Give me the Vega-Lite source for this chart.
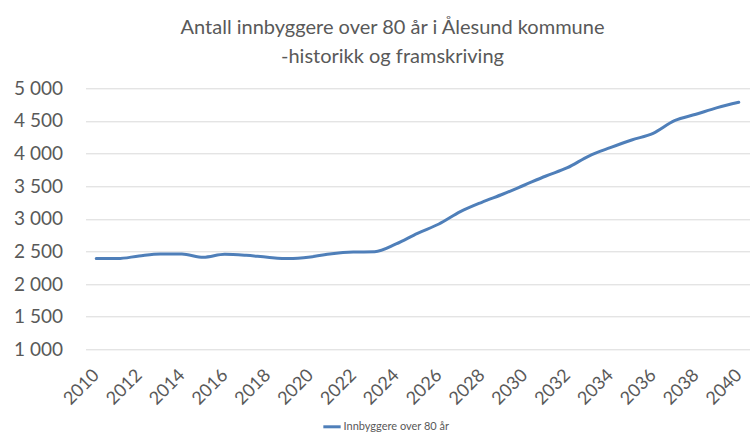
{
  "$schema": "https://vega.github.io/schema/vega-lite/v6.json",
  "autosize": "none",
  "width": 664,
  "height": 261,
  "padding": {"left": 85.5, "top": 88.3, "right": 3.5, "bottom": 89.7},
  "background": "white",
  "title": {
    "text": ["Antall innbyggere over 80 år i Ålesund kommune", "-historikk og framskriving"],
    "font": "Lato",
    "fontSize": 20,
    "fontWeight": "normal",
    "color": "#595959",
    "anchor": "middle",
    "dx": -25,
    "offset": 12,
    "lineHeight": 29
  },
  "data": {
    "values": [
      {"year": 2010, "value": 2390, "series": "Innbyggere over 80 år"},
      {"year": 2011, "value": 2390, "series": "Innbyggere over 80 år"},
      {"year": 2012, "value": 2430, "series": "Innbyggere over 80 år"},
      {"year": 2013, "value": 2460, "series": "Innbyggere over 80 år"},
      {"year": 2014, "value": 2460, "series": "Innbyggere over 80 år"},
      {"year": 2015, "value": 2410, "series": "Innbyggere over 80 år"},
      {"year": 2016, "value": 2456, "series": "Innbyggere over 80 år"},
      {"year": 2017, "value": 2440, "series": "Innbyggere over 80 år"},
      {"year": 2018, "value": 2410, "series": "Innbyggere over 80 år"},
      {"year": 2019, "value": 2390, "series": "Innbyggere over 80 år"},
      {"year": 2020, "value": 2415, "series": "Innbyggere over 80 år"},
      {"year": 2021, "value": 2465, "series": "Innbyggere over 80 år"},
      {"year": 2022, "value": 2490, "series": "Innbyggere over 80 år"},
      {"year": 2023, "value": 2495, "series": "Innbyggere over 80 år"},
      {"year": 2024, "value": 2614, "series": "Innbyggere over 80 år"},
      {"year": 2025, "value": 2778, "series": "Innbyggere over 80 år"},
      {"year": 2026, "value": 2920, "series": "Innbyggere over 80 år"},
      {"year": 2027, "value": 3109, "series": "Innbyggere over 80 år"},
      {"year": 2028, "value": 3253, "series": "Innbyggere over 80 år"},
      {"year": 2029, "value": 3380, "series": "Innbyggere over 80 år"},
      {"year": 2030, "value": 3518, "series": "Innbyggere over 80 år"},
      {"year": 2031, "value": 3656, "series": "Innbyggere over 80 år"},
      {"year": 2032, "value": 3783, "series": "Innbyggere over 80 år"},
      {"year": 2033, "value": 3962, "series": "Innbyggere over 80 år"},
      {"year": 2034, "value": 4090, "series": "Innbyggere over 80 år"},
      {"year": 2035, "value": 4208, "series": "Innbyggere over 80 år"},
      {"year": 2036, "value": 4310, "series": "Innbyggere over 80 år"},
      {"year": 2037, "value": 4504, "series": "Innbyggere over 80 år"},
      {"year": 2038, "value": 4602, "series": "Innbyggere over 80 år"},
      {"year": 2039, "value": 4703, "series": "Innbyggere over 80 år"},
      {"year": 2040, "value": 4785, "series": "Innbyggere over 80 år"}
    ]
  },
  "mark": {"type": "line", "strokeWidth": 3, "strokeCap": "round", "interpolate": "monotone"},
  "encoding": {
    "x": {
      "field": "year",
      "type": "quantitative",
      "scale": {"domain": [2009.5, 2040.5], "nice": false, "zero": false},
      "axis": {
        "title": null,
        "values": [2010, 2012, 2014, 2016, 2018, 2020, 2022, 2024, 2026, 2028, 2030, 2032, 2034, 2036, 2038, 2040],
        "format": "d",
        "grid": false,
        "domain": false,
        "ticks": false,
        "labelAngle": -45,
        "labelAlign": "right",
        "labelBaseline": "middle",
        "labelPadding": 23,
        "labelFont": "Lato",
        "labelFontSize": 18,
        "labelColor": "#595959",
        "labelOverlap": false,
        "labelFlush": false
      }
    },
    "y": {
      "field": "value",
      "type": "quantitative",
      "scale": {"domain": [1000, 5000], "nice": false, "zero": false},
      "axis": {
        "title": null,
        "values": [1000, 1500, 2000, 2500, 3000, 3500, 4000, 4500, 5000],
        "labelExpr": "replace(format(datum.value, ','), ',', ' ')",
        "domain": false,
        "ticks": false,
        "gridColor": "#d9d9d9",
        "gridWidth": 1,
        "labelPadding": 23,
        "labelFont": "Lato",
        "labelFontSize": 19,
        "labelColor": "#595959"
      }
    },
    "color": {
      "field": "series",
      "type": "nominal",
      "scale": {"range": ["#4f7fb9"]},
      "legend": {
        "title": null,
        "orient": "none",
        "legendX": 236,
        "legendY": 328,
        "symbolType": "stroke",
        "symbolStrokeWidth": 3,
        "symbolSize": 300,
        "labelFont": "Lato",
        "labelFontSize": 11,
        "labelColor": "#595959",
        "labelOffset": 1
      }
    }
  },
  "config": {"view": {"stroke": null}}
}
